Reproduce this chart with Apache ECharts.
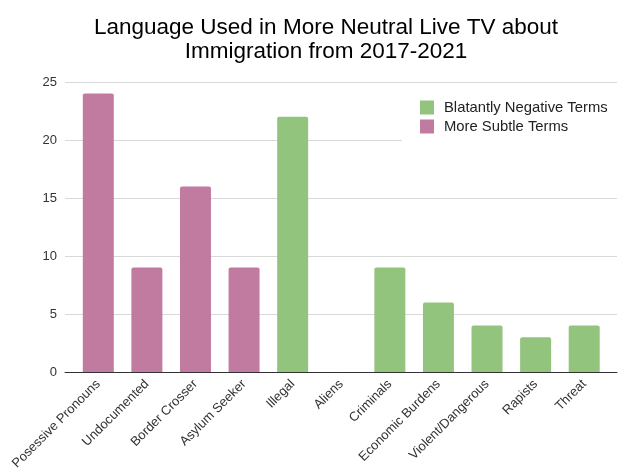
<!DOCTYPE html>
<html>
<head>
<meta charset="utf-8">
<script src="https://cdn.jsdelivr.net/npm/echarts@6/dist/echarts.min.js"></script>
<style>
  html, body { margin: 0; padding: 0; background: #fff; }
  #chart { width: 618px; height: 474px; }
</style>
</head>
<body>
<div id="chart"></div>
<script>
// Term categories along the x axis
const categories = [
  'Posessive Pronouns', 'Undocumented', 'Border Crosser', 'Asylum Seeker',
  'Illegal', 'Aliens', 'Criminals', 'Economic Burdens',
  'Violent/Dangerous', 'Rapists', 'Threat'
];
// Counts per term, split into the two groups
const blatantlyNegative = [null, null, null, null, 22, 0, 9, 6, 4, 3, 4];
const moreSubtle = [24, 9, 16, 9, null, null, null, null, null, null, null];
const yTicks = { min: 0, max: 25, interval: 5 };

const FONT = '"Liberation Sans", Arial, sans-serif';
const chart = echarts.init(document.getElementById('chart'), null, { renderer: 'canvas' });

chart.setOption({
  backgroundColor: '#ffffff',
  animation: false,
  title: {
    text: 'Language Used in More Neutral Live TV about\nImmigration from 2017-2021',
    left: 326,
    top: 16,
    padding: 0,
    textAlign: 'center',
    textStyle: { fontFamily: FONT, fontSize: 22.5, fontWeight: 'normal', color: '#000', lineHeight: 24 }
  },
  legend: {
    data: ['Blatantly Negative Terms', 'More Subtle Terms'],
    orient: 'vertical',
    left: 402,
    top: 88,
    padding: [12, 40, 13, 18],
    itemGap: 4,
    itemWidth: 14,
    itemHeight: 14,
    backgroundColor: '#ffffff',
    icon: 'rect',
    textStyle: { fontFamily: FONT, fontSize: 14.8, color: '#222', padding: [0, 0, 0, 5] }
  },
  grid: [
    { left: 74, right: 9.5, top: 82, bottom: 102 },
    { left: 65, right: 1, top: 82, bottom: 102 }
  ],
  xAxis: [
    {
      type: 'category',
      gridIndex: 0,
      data: categories,
      axisLine: { show: false },
      axisTick: { show: false },
      axisLabel: {
        rotate: 45,
        interval: 0,
        margin: 10,
        fontFamily: FONT,
        fontSize: 13,
        color: '#333'
      }
    },
    {
      type: 'value',
      gridIndex: 1,
      min: 0,
      max: 1,
      axisLine: { show: true, lineStyle: { color: '#333', width: 1 } },
      axisTick: { show: false },
      axisLabel: { show: false },
      splitLine: { show: false }
    }
  ],
  yAxis: [
    {
      type: 'value',
      gridIndex: 0,
      min: yTicks.min,
      max: yTicks.max,
      interval: yTicks.interval,
      show: false
    },
    {
      type: 'value',
      gridIndex: 1,
      min: yTicks.min,
      max: yTicks.max,
      interval: yTicks.interval,
      axisLine: { show: false },
      axisTick: { show: false },
      axisLabel: { margin: 8, fontFamily: FONT, fontSize: 13, color: '#333' },
      splitLine: { lineStyle: { color: '#d9d9d9', width: 1 } }
    }
  ],
  series: [
    {
      name: 'Blatantly Negative Terms',
      type: 'bar',
      xAxisIndex: 0,
      yAxisIndex: 0,
      data: blatantlyNegative,
      barWidth: 31,
      barGap: '-100%',
      itemStyle: { color: '#93c47d', borderRadius: [2, 2, 0, 0] },
      z: 3
    },
    {
      name: 'More Subtle Terms',
      type: 'bar',
      xAxisIndex: 0,
      yAxisIndex: 0,
      data: moreSubtle,
      barWidth: 31,
      barGap: '-100%',
      itemStyle: { color: '#c27ba0', borderRadius: [2, 2, 0, 0] },
      z: 3
    }
  ]
});
</script>
</body>
</html>
